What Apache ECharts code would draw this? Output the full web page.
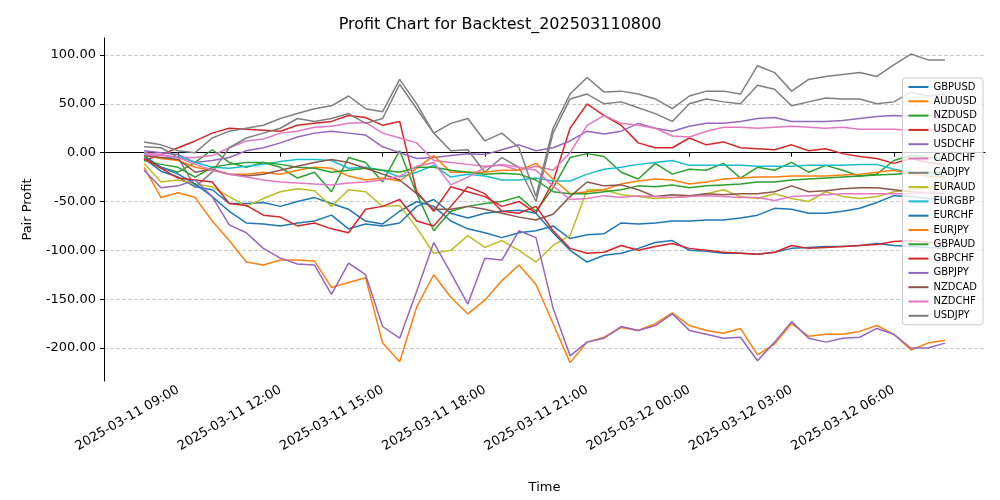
<!DOCTYPE html>
<html><head><meta charset="utf-8">
<script src="https://cdn.jsdelivr.net/npm/echarts@6/dist/echarts.min.js"></script>
<style>html,body{margin:0;padding:0;background:#fff}#c{width:1000px;height:500px}</style>
</head><body><div id="c"></div>
<script>
const startTime = Date.UTC(2025,2,11,8,0);
const stepMinutes = 30;
const pairs = ["GBPUSD","AUDUSD","NZDUSD","USDCAD","USDCHF","CADCHF","CADJPY","EURAUD","EURGBP","EURCHF","EURJPY","GBPAUD","GBPCHF","GBPJPY","NZDCAD","NZDCHF","USDJPY"];
const colors = ["#1f77b4","#ff7f0e","#2ca02c","#d62728","#9467bd","#e377c2","#7f7f7f","#bcbd22","#17becf","#1f77b4","#ff7f0e","#2ca02c","#d62728","#9467bd","#8c564b","#e377c2","#7f7f7f"];
const yTicks = [-200,-150,-100,-50,0,50,100];
const xTickHours = ["2025-03-11 09:00","2025-03-11 12:00","2025-03-11 15:00","2025-03-11 18:00","2025-03-11 21:00","2025-03-12 00:00","2025-03-12 03:00","2025-03-12 06:00"];

const GBPUSD = [-6,-19,-25,-35,-38,-52,-52,-51,-55,-50,-46,-52,-58,-70,-73,-60,-50,-55,-70,-78,-82,-87,-82,-80,-75,-88,-84,-83,-72,-73,-72,-70,-70,-69,-69,-67,-64,-57,-58,-62,-62,-60,-57,-51,-44,-45,-47,-48];
const AUDUSD = [-15,-46,-41,-46,-70,-90,-112,-115,-110,-110,-111,-138,-133,-128,-195,-214,-158,-125,-148,-165,-151,-131,-115,-135,-175,-215,-194,-189,-179,-182,-175,-164,-177,-182,-185,-180,-207,-196,-175,-188,-186,-186,-183,-177,-186,-202,-195,-192];
const NZDUSD = [-5,-15,-20,-10,3,-10,-15,-10,-15,-26,-20,-40,-5,-10,-30,2,-42,-80,-60,-55,-52,-50,-45,-60,-36,-5,-1,-4,-20,-27,-11,-22,-17,-18,-11,-26,-15,-18,-10,-20,-13,-18,-24,-22,-8,-3,-5,-5];
const USDCAD = [-8,-2,5,12,20,25,24,23,22,28,30,32,38,36,28,32,-40,-60,-35,-40,-45,-55,-50,-62,-30,25,50,38,28,10,5,5,15,8,11,5,4,3,8,2,4,-1,-4,-6,-11,-6,-10,-12];
const USDCHF = [2,0,-2,-10,-8,-5,2,5,10,16,20,22,20,18,6,0,-6,-5,-3,-1,-2,3,8,2,5,12,22,19,22,30,25,22,27,30,30,32,35,36,32,32,32,33,35,37,38,37,38,38];
const CADCHF = [0,-2,-5,-5,-3,5,12,14,20,22,26,27,30,31,20,15,10,-8,-10,-12,-14,-13,-18,-14,-18,0,28,38,30,28,25,17,16,22,26,26,25,26,27,26,25,26,24,24,24,23,23,23];
const CADJPY = [6,5,-5,-35,-20,5,15,20,25,35,32,35,40,30,35,70,45,20,2,3,-20,-5,-15,-50,20,55,60,50,52,46,40,32,50,55,52,50,69,65,48,52,56,55,55,50,52,62,58,60];
const EURAUD = [-11,-30,-28,-32,-35,-45,-55,-47,-40,-37,-39,-55,-38,-40,-55,-54,-77,-103,-100,-85,-97,-90,-100,-112,-95,-85,-38,-38,-43,-45,-47,-46,-45,-42,-38,-45,-47,-42,-47,-50,-40,-45,-47,-45,-40,-38,-36,-35];
const EURGBP = [-1,-6,-4,-10,-15,-16,-14,-12,-9,-7,-7,-8,-16,-15,-18,-25,-20,-13,-25,-22,-24,-28,-28,-26,-29,-29,-22,-17,-15,-12,-10,-8,-13,-13,-13,-13,-14,-14,-14,-13,-13,-13,-12,-12,-17,-20,-22,-24];
const EURCHF = [-3,-15,-22,-32,-45,-60,-72,-73,-75,-72,-70,-64,-78,-73,-75,-72,-55,-48,-62,-67,-62,-60,-59,-62,-82,-100,-112,-105,-103,-98,-92,-90,-100,-101,-103,-103,-104,-102,-98,-97,-96,-96,-95,-93,-95,-96,-97,-98];
const EURJPY = [-3,-6,-8,-15,-18,-22,-22,-20,-22,-18,-15,-16,-24,-28,-26,-29,-16,-3,-20,-20,-20,-18,-18,-11,-27,-42,-40,-38,-32,-29,-27,-28,-32,-30,-27,-26,-25,-25,-24,-24,-24,-23,-22,-20,-18,-22,-24,-25];
const GBPAUD = [-8,-12,-15,-25,-15,-12,-10,-10,-12,-15,-16,-20,-18,-16,-18,-20,-15,-15,-18,-20,-22,-21,-22,-28,-40,-42,-42,-40,-38,-34,-35,-33,-36,-34,-33,-32,-30,-30,-28,-27,-26,-25,-24,-23,-22,-21,-20,-20];
const GBPCHF = [-6,-16,-26,-28,-30,-52,-54,-64,-66,-75,-72,-78,-82,-58,-55,-48,-70,-75,-55,-35,-42,-60,-62,-55,-80,-98,-103,-102,-95,-100,-96,-93,-98,-100,-102,-103,-104,-102,-95,-98,-97,-96,-95,-94,-91,-90,-92,-92];
const GBPJPY = [-18,-36,-34,-28,-45,-74,-82,-98,-108,-114,-115,-145,-113,-125,-178,-190,-142,-92,-123,-155,-108,-110,-80,-87,-159,-208,-194,-190,-178,-182,-177,-165,-182,-186,-190,-189,-213,-194,-173,-190,-194,-190,-189,-180,-186,-200,-200,-195];
const NZDCAD = [-3,-5,-7,-20,-17,-22,-24,-22,-18,-14,-10,-7,-10,-16,-22,-28,-42,-58,-58,-55,-58,-62,-66,-69,-63,-45,-30,-34,-33,-38,-45,-43,-44,-42,-43,-42,-42,-40,-34,-40,-39,-37,-36,-36,-38,-40,-41,-42];
const NZDCHF = [-2,-3,-5,-12,-18,-22,-25,-28,-30,-31,-32,-33,-31,-30,-28,-24,-14,-10,-33,-25,-15,-12,-15,-18,-34,-48,-47,-44,-46,-44,-45,-46,-45,-44,-45,-46,-46,-49,-45,-44,-43,-42,-42,-42,-42,-42,-41,-40];
const USDJPY = [11,8,2,0,15,22,25,28,35,40,45,48,58,45,42,75,50,20,30,35,12,20,5,-45,25,60,77,62,63,60,55,45,58,63,63,60,89,82,63,75,78,80,82,78,90,101,95,95];

const seriesValues = [GBPUSD,AUDUSD,NZDUSD,USDCAD,USDCHF,CADCHF,CADJPY,EURAUD,EURGBP,EURCHF,EURJPY,GBPAUD,GBPCHF,GBPJPY,NZDCAD,NZDCHF,USDJPY];

function parseT(s){const [d,t]=s.split(' ');const [Y,M,D]=d.split('-').map(Number);const [h,m]=t.split(':').map(Number);return Date.UTC(Y,M-1,D,h,m);}
const xTicks = xTickHours.map(parseT);
const pad = n => String(n).padStart(2,'0');
function fmt(v){const d=new Date(v);return d.getUTCFullYear()+'-'+pad(d.getUTCMonth()+1)+'-'+pad(d.getUTCDate())+' '+pad(d.getUTCHours())+':'+pad(d.getUTCMinutes());}

const n = GBPUSD.length;
const lastT = startTime + (n-1)*stepMinutes*60000;
const span = lastT - startTime;
const xMin = startTime - span*0.05, xMax = lastT + span*0.05;

const series = pairs.map((p,i)=>({
  name:p, type:'line', showSymbol:false, symbol:'none',
  lineStyle:{width:1.5,color:colors[i]}, itemStyle:{color:colors[i]},
  data: seriesValues[i].map((v,j)=>[startTime + j*stepMinutes*60000, v])
}));

const ch = echarts.init(document.getElementById('c'),null,{renderer:'canvas'});
ch.setOption({
  animation:false,
  backgroundColor:'#fff',
  textStyle:{fontFamily:'DejaVu Sans'},
  title:{text:'Profit Chart for Backtest_202503110800',left:'center',top:12,textStyle:{fontSize:16,fontWeight:'normal',color:'#000',fontFamily:'DejaVu Sans'}},
  grid:{left:104,right:15,top:38,bottom:119},
  legend:{orient:'vertical',right:17,top:78,icon:'rect',itemWidth:20,itemHeight:2,itemGap:4.3,
    textStyle:{fontSize:10,color:'#000',fontFamily:'DejaVu Sans'},
    backgroundColor:'rgba(255,255,255,0.8)',borderColor:'#ccc',borderWidth:1,borderRadius:3,padding:[4,6,4,6],
    data:pairs},
  xAxis:{type:'value',min:xMin,max:xMax,name:'Time',nameLocation:'middle',nameGap:100,
    nameTextStyle:{fontSize:13,color:'#000'},
    axisLine:{lineStyle:{color:'#000'}},
    axisTick:{customValues:xTicks,length:4,lineStyle:{color:'#000'}},
    axisLabel:{customValues:xTicks,rotate:30,fontSize:13,color:'#000',formatter:v=>fmt(v),margin:8},
    splitLine:{show:false}},
  yAxis:{type:'value',min:-233.8,max:117.4,name:'Pair Profit',nameLocation:'middle',nameGap:70,
    nameTextStyle:{fontSize:13,color:'#000'},
    axisLine:{show:true,lineStyle:{color:'#000'}},
    axisTick:{show:true,customValues:yTicks,length:4,lineStyle:{color:'#000'}},
    axisLabel:{customValues:yTicks,fontSize:13,color:'#000',formatter:v=>v.toFixed(2)},
    splitLine:{show:true,lineStyle:{color:'#ccc',type:'dashed'}}},
  series:series
});
</script></body></html>
